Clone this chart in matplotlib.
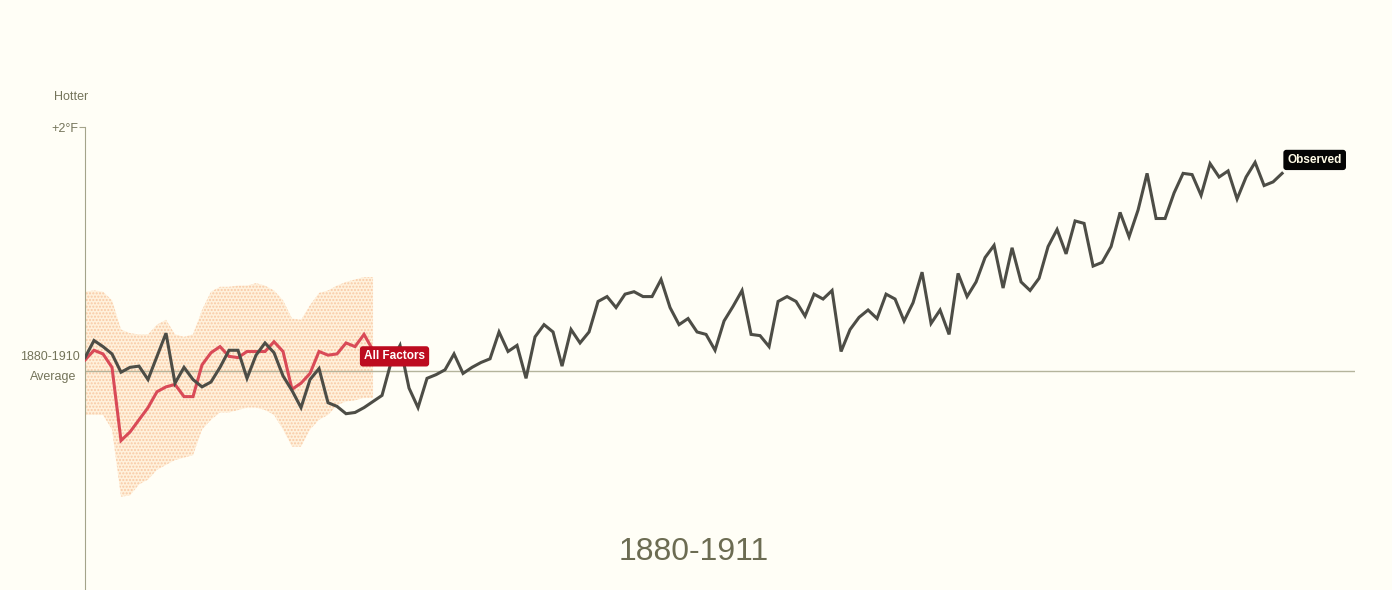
import numpy as np
import matplotlib.pyplot as plt

plt.rcParams['font.family'] = ['Liberation Sans', 'DejaVu Sans']

# Observed temperature anomaly (deg F, relative to 1880-1910 average)
obs_years = np.arange(1880, 2014)
observed = [
    0.11, 0.25, 0.20, 0.14, -0.01, 0.03, 0.04, -0.07, 0.12, 0.31,    # 1880s
    -0.10, 0.03, -0.07, -0.13, -0.09, 0.03, 0.17, 0.17, -0.06, 0.13,  # 1890s
    0.23, 0.15, -0.04, -0.16, -0.30, -0.07, 0.02, -0.26, -0.29, -0.35,  # 1900s
    -0.34, -0.30, -0.25, -0.20, 0.07, 0.21, -0.14, -0.30, -0.06, -0.03,  # 1910s
    0.01, 0.14, -0.02, 0.03, 0.07, 0.10, 0.32, 0.16, 0.21, -0.06,   # 1920s
    0.28, 0.38, 0.32, 0.04, 0.34, 0.23, 0.32, 0.57, 0.61, 0.52,     # 1930s
    0.63, 0.65, 0.61, 0.61, 0.75, 0.52, 0.38, 0.43, 0.32, 0.30,     # 1940s
    0.17, 0.41, 0.53, 0.66, 0.30, 0.29, 0.20, 0.57, 0.61, 0.57,     # 1950s
    0.45, 0.63, 0.59, 0.66, 0.16, 0.34, 0.44, 0.50, 0.43, 0.63,     # 1960s
    0.59, 0.41, 0.56, 0.81, 0.39, 0.50, 0.30, 0.80, 0.61, 0.73,     # 1970s
    0.93, 1.03, 0.68, 1.01, 0.73, 0.66, 0.76, 1.02, 1.16, 0.96,     # 1980s
    1.23, 1.21, 0.86, 0.89, 1.02, 1.30, 1.10, 1.32, 1.62, 1.25,     # 1990s
    1.25, 1.46, 1.62, 1.61, 1.44, 1.70, 1.59, 1.64, 1.41, 1.59,     # 2000s
    1.71, 1.52, 1.55, 1.62,                                         # 2010s
]

# "All Factors" model run drawn so far (1880-1911, animation frame)
model_years = np.arange(1880, 1913)
all_factors = [
    0.09, 0.17, 0.14, 0.03, -0.57, -0.50, -0.40, -0.30, -0.17, -0.13,
    -0.11, -0.21, -0.21, 0.05, 0.15, 0.20, 0.12, 0.11, 0.16, 0.16,
    0.16, 0.24, 0.16, -0.15, -0.10, -0.02, 0.16, 0.13, 0.14, 0.23,
    0.20, 0.30, 0.17,
]
band_high = [
    0.65, 0.66, 0.65, 0.58, 0.34, 0.31, 0.30, 0.30, 0.38, 0.42,
    0.30, 0.28, 0.30, 0.50, 0.65, 0.69, 0.69, 0.70, 0.70, 0.72,
    0.70, 0.66, 0.58, 0.43, 0.42, 0.54, 0.64, 0.66, 0.70, 0.73,
    0.75, 0.77, 0.77,
]
band_low = [
    -0.36, -0.36, -0.36, -0.48, -1.03, -1.02, -0.93, -0.89, -0.81, -0.77,
    -0.73, -0.71, -0.69, -0.48, -0.40, -0.34, -0.34, -0.32, -0.30, -0.30,
    -0.32, -0.36, -0.48, -0.62, -0.62, -0.48, -0.40, -0.36, -0.28, -0.25,
    -0.24, -0.22, -0.22,
]

bg = '#fffef6'
text_col = '#74745a'

fig = plt.figure(figsize=(13.92, 5.9), dpi=100)
fig.patch.set_facecolor(bg)
ax = fig.add_axes([85 / 1392, 0, 1270 / 1392, 463 / 590])
ax.set_facecolor('none')

# model range band
ax.fill_between(model_years, band_low, band_high, facecolor='#fff1dc',
                edgecolor='#f8c9a4', hatch='.....', linewidth=0, zorder=1)

ax.axhline(0, color='#b4b49c', linewidth=1, zorder=2)

ax.plot(model_years, all_factors, color='#d94a57', linewidth=2.2, zorder=3,
        solid_joinstyle='miter')
ax.plot(obs_years, observed, color='#4d4d46', linewidth=2.2, zorder=4,
        solid_joinstyle='miter')

ax.set_xlim(1880, 2021.1)
ax.set_ylim(-1.795, 2)

for s in ['top', 'right', 'bottom']:
    ax.spines[s].set_visible(False)
ax.spines['left'].set_color('#a4a48a')
ax.spines['left'].set_linewidth(0.8)
ax.set_xticks([])
ax.set_yticks([2])
ax.set_yticklabels(['+2°F'])
ax.tick_params(axis='y', length=4, width=0.8, color='#a4a48a', pad=1,
               labelsize=9, labelcolor=text_col)

# line labels
ax.text(1911.0, 0.12, 'All Factors', ha='left', va='center', color='white',
        fontweight='bold', fontsize=8.5, zorder=6,
        bbox=dict(boxstyle='round,pad=0.35,rounding_size=0.25',
                  fc='#bd0b1f', ec='none'))
ax.text(obs_years[-1] + 0.6, observed[-1] + 0.11, 'Observed', ha='left',
        va='center', color='#fffbe6', fontweight='bold', fontsize=8.5,
        zorder=6, bbox=dict(boxstyle='round,pad=0.35,rounding_size=0.25',
                            fc='#050505', ec='none'))

fig.text(88 / 1392, 1 - 97 / 590, 'Hotter', ha='right', va='center',
         fontsize=9, color=text_col)
fig.text(80 / 1392, 1 - 357 / 590, '1880-1910', ha='right', va='center',
         fontsize=9, color=text_col)
fig.text(76 / 1392, 1 - 377 / 590, 'Average', ha='right', va='center',
         fontsize=9, color=text_col)
fig.text(694 / 1392, 1 - 552 / 590, '1880-1911', ha='center', va='center',
         fontsize=23, color='#6c6c52')

fig.savefig('out.png', dpi=100, facecolor=bg)
